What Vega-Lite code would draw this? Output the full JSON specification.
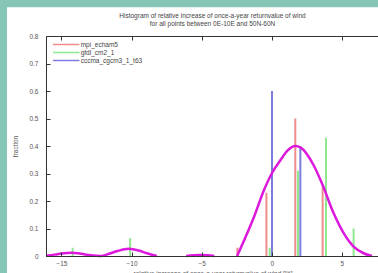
{
  "$schema": "https://vega.github.io/schema/vega-lite/v6.json",
  "width": 333,
  "height": 220,
  "autosize": {"type": "none"},
  "padding": {"left": 46, "top": 36, "right": 0, "bottom": 17},
  "background": "#86c6b6",
  "title": {
    "text": ["Histogram of relative increase of once-a-year returnvalue of wind", "for all points between 0E-10E and 50N-60N"],
    "anchor": "middle",
    "frame": "group",
    "zindex": 2,
    "fontSize": 6.5,
    "fontWeight": "normal",
    "font": "Liberation Sans",
    "color": "#444",
    "lineHeight": 7.5,
    "offset": -20
  },
  "config": {
    "view": {"stroke": null},
    "axis": {
      "grid": false,
      "labelOverlap": false,
      "domainColor": "#333",
      "tickColor": "#333",
      "labelColor": "#555",
      "labelFont": "Liberation Sans",
      "labelFontSize": 6.5,
      "titleFont": "Liberation Sans",
      "titleFontSize": 6.5,
      "titleFontWeight": "normal",
      "titleColor": "#555"
    },
    "axisY": {"tickCount": 8}
  },
  "datasets": {
    "bars": [
      {"model": "mpi_echam5", "x": -2.45, "f": 0.03},
      {"model": "mpi_echam5", "x": -0.38, "f": 0.23},
      {"model": "mpi_echam5", "x": 1.68, "f": 0.5},
      {"model": "mpi_echam5", "x": 3.63, "f": 0.25},
      {"model": "gfdl_cm2_1", "x": -14.2, "f": 0.03},
      {"model": "gfdl_cm2_1", "x": -10.1, "f": 0.065},
      {"model": "gfdl_cm2_1", "x": -0.15, "f": 0.03},
      {"model": "gfdl_cm2_1", "x": 1.87, "f": 0.31},
      {"model": "gfdl_cm2_1", "x": 3.87, "f": 0.43},
      {"model": "gfdl_cm2_1", "x": 5.84, "f": 0.1},
      {"model": "cccma_cgcm3_1_t63", "x": 0.02, "f": 0.6},
      {"model": "cccma_cgcm3_1_t63", "x": 2.04, "f": 0.4}
    ],
    "curve": [
      {"seg": "a", "x": -16.1, "y": 0.001},
      {"seg": "a", "x": -15.5, "y": 0.005},
      {"seg": "a", "x": -15.0, "y": 0.009},
      {"seg": "a", "x": -14.3, "y": 0.012},
      {"seg": "a", "x": -13.7, "y": 0.009},
      {"seg": "a", "x": -13.1, "y": 0.004},
      {"seg": "a", "x": -12.5, "y": 0.0005},
      {"seg": "a", "x": -12.2, "y": 0},
      {"seg": "a", "x": -11.6, "y": 0.008},
      {"seg": "a", "x": -11.0, "y": 0.018},
      {"seg": "a", "x": -10.2, "y": 0.026},
      {"seg": "a", "x": -9.5, "y": 0.02},
      {"seg": "a", "x": -8.9, "y": 0.01},
      {"seg": "a", "x": -8.2, "y": 0},
      {"seg": "b", "x": -6.1, "y": 0},
      {"seg": "b", "x": -5.6, "y": 0.003},
      {"seg": "b", "x": -5.1, "y": 0.004},
      {"seg": "b", "x": -4.6, "y": 0.003},
      {"seg": "b", "x": -4.1, "y": 0},
      {"seg": "c", "x": -2.47, "y": 0},
      {"seg": "c", "x": -1.86, "y": 0.07},
      {"seg": "c", "x": -1.26, "y": 0.143},
      {"seg": "c", "x": -0.55, "y": 0.24},
      {"seg": "c", "x": 0, "y": 0.3},
      {"seg": "c", "x": 0.64, "y": 0.35},
      {"seg": "c", "x": 1.12, "y": 0.383},
      {"seg": "c", "x": 1.68, "y": 0.4},
      {"seg": "c", "x": 2.04, "y": 0.395},
      {"seg": "c", "x": 2.99, "y": 0.33},
      {"seg": "c", "x": 3.63, "y": 0.258},
      {"seg": "c", "x": 4.41, "y": 0.156},
      {"seg": "c", "x": 5.13, "y": 0.083},
      {"seg": "c", "x": 5.84, "y": 0.034},
      {"seg": "c", "x": 6.55, "y": 0.01},
      {"seg": "c", "x": 7.15, "y": 0}
    ]
  },
  "resolve": {"axis": {"x": "independent"}},
  "layer": [
    {
      "data": {"values": [{}]},
      "mark": {"type": "rect", "fill": "white", "clip": false},
      "encoding": {
        "x": {"datum": -18.88, "type": "quantitative", "scale": {"domain": [-16.1, 7.65], "nice": false, "zero": false}, "axis": null},
        "x2": {"datum": 12},
        "y": {
          "datum": 0.905, "type": "quantitative",
          "scale": {"domain": [0, 0.8], "nice": false},
          "axis": {"zindex": 2, "labelOverlap": false, "tickCount": 8, "format": ".1~f", "tickSize": -4, "labelPadding": 12, "title": "fraction", "titlePadding": 10}
        },
        "y2": {"datum": -0.1}
      }
    },
    {
      "data": {"name": "bars"},
      "mark": {"type": "rule", "strokeWidth": 2},
      "encoding": {
        "x": {
          "field": "x", "type": "quantitative",
          "scale": {"domain": [-16.1, 7.65], "nice": false, "zero": false},
          "axis": {"zindex": 2, "values": [-15, -10, -5, 0, 5], "tickSize": -4, "labelPadding": 8, "title": "relative increase of once-a-year returnvalue of wind [%]", "titlePadding": 4}
        },
        "y": {
          "field": "f", "type": "quantitative",
          "scale": {"domain": [0, 0.8], "nice": false},
          "axis": {"zindex": 2, "labelOverlap": false, "tickCount": 8, "format": ".1~f", "tickSize": -4, "labelPadding": 12, "title": "fraction", "titlePadding": 10}
        },
        "y2": {"datum": 0},
        "color": {
          "field": "model", "type": "nominal",
          "scale": {"domain": ["mpi_echam5", "gfdl_cm2_1", "cccma_cgcm3_1_t63"], "range": ["#f08c8c", "#8ee88e", "#7c7cdc"]},
          "legend": {
            "zindex": 2,
            "title": null,
            "orient": "none",
            "legendX": 15.7,
            "legendY": 4,
            "symbolType": "M-4,0H4",
            "symbolSize": 44,
            "symbolStrokeWidth": 1.5,
            "labelFontSize": 6.5,
            "labelFont": "Liberation Sans",
            "labelColor": "#444",
            "labelOffset": 10,
            "rowPadding": -0.5
          }
        }
      }
    },
    {
      "data": {"name": "curve"},
      "mark": {"type": "line", "color": "#dd18dd", "strokeWidth": 2.5, "interpolate": "monotone"},
      "encoding": {
        "x": {
          "field": "x", "type": "quantitative",
          "scale": {"domain": [-16.1, 7.65], "nice": false, "zero": false},
          "axis": {"zindex": 2, "orient": "top", "values": [-15, -10, -5, 0, 5], "tickSize": -4, "labels": false, "title": null}
        },
        "y": {"field": "y", "type": "quantitative", "scale": {"domain": [0, 0.8], "nice": false}},
        "detail": {"field": "seg"}
      }
    }
  ]
}
